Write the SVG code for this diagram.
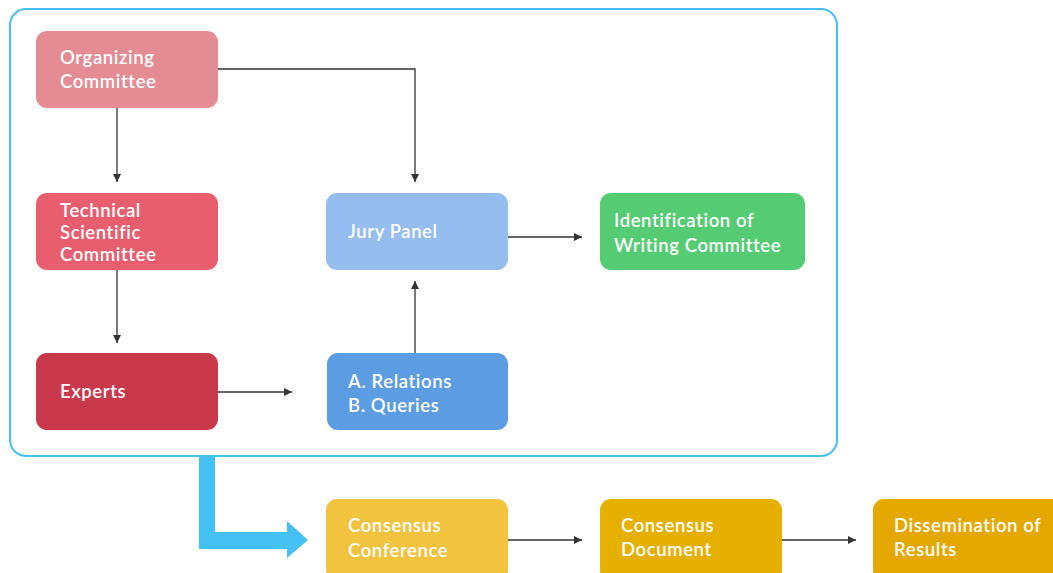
<svg xmlns="http://www.w3.org/2000/svg" width="1053" height="573" viewBox="0 0 1053 573">
<defs>
<style>
.box{stroke:none}
.t{font-family:Lato,"Open Sans","Liberation Sans",sans-serif;font-size:18.5px;font-weight:600;letter-spacing:0.6px;fill:#ffffff}
.c{fill:none;stroke:#333333;stroke-width:1.3}
</style>
<marker id="ah" viewBox="0 0 10 10" refX="10" refY="5" markerWidth="8" markerHeight="8" markerUnits="userSpaceOnUse" orient="auto">
<path d="M0,0 L10,5 L0,10 Z" fill="#333333"/>
</marker>
</defs>
<rect x="0" y="0" width="1053" height="573" fill="#ffffff"/>
<g id="container">
<rect x="10" y="9" width="827" height="447" rx="16" fill="none" stroke="#44C0F2" stroke-width="2"/>
</g>
<g id="connectors">
<path class="c" d="M117,108 V182" marker-end="url(#ah)"/>
<path class="c" d="M218,69 H415 V182" marker-end="url(#ah)"/>
<path class="c" d="M117,270 V343" marker-end="url(#ah)"/>
<path class="c" d="M218,392 H292" marker-end="url(#ah)"/>
<path class="c" d="M415,353 V281" marker-end="url(#ah)"/>
<path class="c" d="M508,237 H582" marker-end="url(#ah)"/>
<path class="c" d="M508,540 H582" marker-end="url(#ah)"/>
<path class="c" d="M782,540 H856" marker-end="url(#ah)"/>
<polygon points="199,456 215,456 215,532 287,532 287,521 308,540 287,558 287,549 199,549" fill="#44C0F2"/>
</g>
<g id="organizing">
<rect class="box" x="36" y="31" width="182" height="77" rx="11" fill="#E48B93"/>
<text class="t" x="60" y="64">Organizing</text>
<text class="t" x="60" y="88">Committee</text>
</g>
<g id="technical">
<rect class="box" x="36" y="193" width="182" height="77" rx="11" fill="#E85E6E"/>
<text class="t" x="60" y="217">Technical</text>
<text class="t" x="60" y="239">Scientific</text>
<text class="t" x="60" y="261">Committee</text>
</g>
<g id="experts">
<rect class="box" x="36" y="353" width="182" height="77" rx="11" fill="#C9394B"/>
<text class="t" x="60" y="398">Experts</text>
</g>
<g id="jury">
<rect class="box" x="326" y="193" width="182" height="77" rx="11" fill="#95BDEE"/>
<text class="t" x="348" y="238">Jury Panel</text>
</g>
<g id="relations">
<rect class="box" x="327" y="353" width="181" height="77" rx="11" fill="#5C9CE3"/>
<text class="t" x="348" y="388">A. Relations</text>
<text class="t" x="348" y="412">B. Queries</text>
</g>
<g id="identification">
<rect class="box" x="600" y="193" width="205" height="77" rx="11" fill="#55CB74"/>
<text class="t" x="614" y="227">Identification of</text>
<text class="t" x="614" y="252">Writing Committee</text>
</g>
<g id="conference">
<rect class="box" x="326" y="499" width="182" height="82" rx="11" fill="#F2C33E"/>
<text class="t" x="348" y="532">Consensus</text>
<text class="t" x="348" y="557">Conference</text>
</g>
<g id="document">
<rect class="box" x="600" y="499" width="182" height="82" rx="11" fill="#E6B000"/>
<text class="t" x="621" y="532">Consensus</text>
<text class="t" x="621" y="556">Document</text>
</g>
<g id="dissemination">
<rect class="box" x="873" y="499" width="190" height="82" rx="11" fill="#E5A800"/>
<text class="t" x="894" y="532">Dissemination of</text>
<text class="t" x="894" y="556">Results</text>
</g>
</svg>
